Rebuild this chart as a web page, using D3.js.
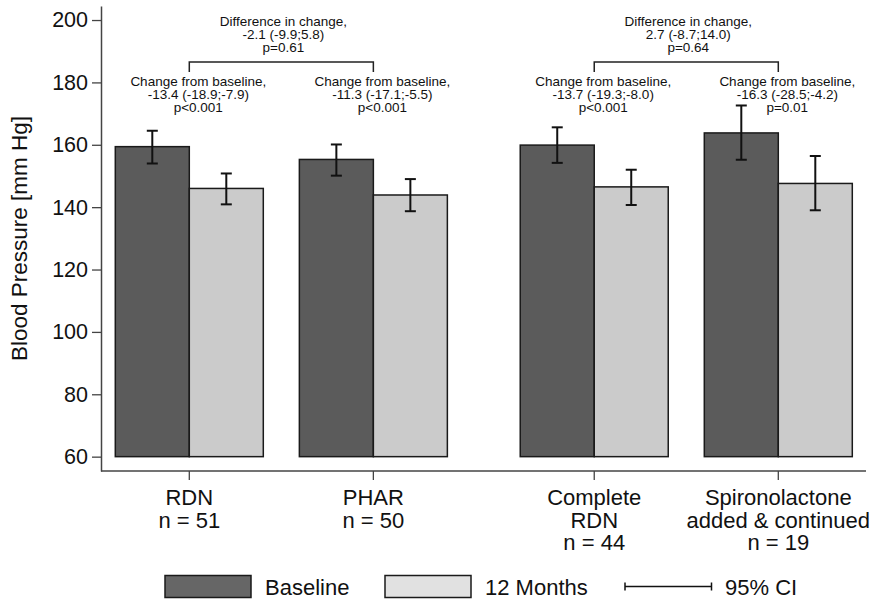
<!DOCTYPE html>
<html>
<head>
<meta charset="utf-8">
<script src="https://cdn.jsdelivr.net/npm/d3@7"></script>
<style>
  body { margin: 0; background: #fff; }
  svg { display: block; font-family: "Liberation Sans", Arial, sans-serif; }
</style>
</head>
<body>
<svg></svg>
<script>
// groups and values
var groups = ["RDN", "PHAR", "Complete RDN", "Spironolactone"];
var groupLabels = [
  ["RDN", "n = 51"],
  ["PHAR", "n = 50"],
  ["Complete", "RDN", "n = 44"],
  ["Spironolactone", "added & continued", "n = 19"]
];
var baseline = [159.4, 155.3, 159.9, 163.8];
var baselineLo = [154.0, 150.1, 154.2, 155.2];
var baselineHi = [164.5, 160.1, 165.6, 172.6];
var months12 = [146.0, 143.9, 146.5, 147.6];
var months12Lo = [140.9, 138.7, 140.7, 139.0];
var months12Hi = [150.8, 149.0, 152.0, 156.4];

var changeEst = ["-13.4 (-18.9;-7.9)", "-11.3 (-17.1;-5.5)", "-13.7 (-19.3;-8.0)", "-16.3 (-28.5;-4.2)"];
var changeP = ["p<0.001", "p<0.001", "p<0.001", "p=0.01"];
var diffPairs = [[0, 1], [2, 3]];
var diffEst = ["-2.1 (-9.9;5.8)", "2.7 (-8.7;14.0)"];
var diffP = ["p=0.61", "p=0.64"];

var yTicks = [60, 80, 100, 120, 140, 160, 180, 200];
var seriesNames = ["Baseline", "12 Months"];

var width = 873, height = 599;
var svg = d3.select("svg").attr("width", width).attr("height", height);

var barFill = ["#5b5b5b", "#cbcbcb"];
var legendFill = ["#666666", "#e1e1e1"];

// slot index with a wider gap between the two comparisons
function slot(i) { return i + (i >= 2 ? 0.2 : 0); }

var x = d3.scaleLinear().domain([0, 3.2]).range([189.3, 778.3]);
var y = d3.scaleLinear().domain([55.4, 204.5]).range([471, 6]);
var barW = 74;
var yBase = 60;

var rows = [];
groups.forEach(function(g, i) {
  rows.push({ i: i, s: 0, v: baseline[i], lo: baselineLo[i], hi: baselineHi[i] });
  rows.push({ i: i, s: 1, v: months12[i], lo: months12Lo[i], hi: months12Hi[i] });
});

// axes
var yAxis = svg.append("g")
    .attr("transform", "translate(101,0)")
    .call(d3.axisLeft(y).tickValues(yTicks).tickSize(9).tickPadding(4).tickSizeOuter(0));
yAxis.select(".domain").attr("stroke", "#444").attr("stroke-width", 1.5);
yAxis.selectAll(".tick line").attr("stroke", "#444").attr("stroke-width", 1.3);
yAxis.selectAll(".tick text").attr("font-size", "21.5px").attr("fill", "#111")
    .attr("font-family", "Liberation Sans, Arial, sans-serif");

svg.append("line")
    .attr("x1", 101).attr("x2", 866)
    .attr("y1", 471).attr("y2", 471)
    .attr("stroke", "#444").attr("stroke-width", 1.5);

svg.append("g").selectAll("line")
    .data(groups)
    .enter().append("line")
      .attr("x1", function(d, i) { return x(slot(i)); })
      .attr("x2", function(d, i) { return x(slot(i)); })
      .attr("y1", 471).attr("y2", 480)
      .attr("stroke", "#444").attr("stroke-width", 1.3);

var xl = svg.append("g").selectAll("text")
    .data(groupLabels)
    .enter().append("text")
      .attr("text-anchor", "middle")
      .attr("font-size", "22px")
      .attr("fill", "#111")
      .attr("x", function(d, i) { return x(slot(i)); })
      .attr("y", 505);
xl.selectAll("tspan")
    .data(function(d, i) { return d.map(function(t) { return { t: t, i: i }; }); })
    .enter().append("tspan")
      .attr("x", function(d) { return x(slot(d.i)); })
      .attr("dy", function(d, j) { return j === 0 ? 0 : 22.5; })
      .text(function(d) { return d.t; });

svg.append("text")
    .attr("transform", "translate(27," + ((6 + 471) / 2) + ") rotate(-90)")
    .attr("text-anchor", "middle")
    .attr("font-size", "22.5px")
    .attr("fill", "#111")
    .text("Blood Pressure [mm Hg]");

// bars
svg.append("g").selectAll("rect")
    .data(rows)
    .enter().append("rect")
      .attr("x", function(d) { return x(slot(d.i)) - barW + d.s * barW; })
      .attr("y", function(d) { return y(d.v); })
      .attr("width", barW)
      .attr("height", function(d) { return y(yBase) - y(d.v); })
      .attr("fill", function(d) { return barFill[d.s]; })
      .attr("stroke", "#1a1a1a")
      .attr("stroke-width", 1.5);

// error bars
var eb = svg.append("g").selectAll("g")
    .data(rows)
    .enter().append("g")
      .attr("stroke", "#111")
      .attr("stroke-width", 2);
function cx(d) { return x(slot(d.i)) - barW / 2 + d.s * barW; }
eb.append("line")
    .attr("x1", cx).attr("x2", cx)
    .attr("y1", function(d) { return y(d.lo); })
    .attr("y2", function(d) { return y(d.hi); });
eb.append("line")
    .attr("x1", function(d) { return cx(d) - 5.5; })
    .attr("x2", function(d) { return cx(d) + 5.5; })
    .attr("y1", function(d) { return y(d.hi); })
    .attr("y2", function(d) { return y(d.hi); });
eb.append("line")
    .attr("x1", function(d) { return cx(d) - 5.5; })
    .attr("x2", function(d) { return cx(d) + 5.5; })
    .attr("y1", function(d) { return y(d.lo); })
    .attr("y2", function(d) { return y(d.lo); });

// change-from-baseline annotations
var ann = svg.append("g").selectAll("text")
    .data(groups)
    .enter().append("text")
      .attr("text-anchor", "middle")
      .attr("font-size", "13.5px")
      .attr("fill", "#111")
      .attr("y", 86);
ann.each(function(d, i) {
  var t = d3.select(this), cxl = x(slot(i)) + 9;
  [ "Change from baseline,", changeEst[i], changeP[i] ].forEach(function(s, j) {
    t.append("tspan").attr("x", cxl).attr("dy", j === 0 ? 0 : 13).text(s);
  });
});

// difference brackets
diffPairs.forEach(function(p, k) {
  var x1 = x(slot(p[0])), x2 = x(slot(p[1]));
  svg.append("path")
      .attr("d", "M" + x1 + ",72V62H" + x2 + "V72")
      .attr("fill", "none")
      .attr("stroke", "#222")
      .attr("stroke-width", 1.5);
  var t = svg.append("text")
      .attr("text-anchor", "middle")
      .attr("font-size", "13.5px")
      .attr("fill", "#111")
      .attr("y", 26);
  [ "Difference in change,", diffEst[k], diffP[k] ].forEach(function(s, j) {
    t.append("tspan").attr("x", (x1 + x2) / 2 + 2).attr("dy", j === 0 ? 0 : 13).text(s);
  });
});

// legend
var legX = [165, 385];
seriesNames.forEach(function(name, s) {
  svg.append("rect")
      .attr("x", legX[s]).attr("y", 575.5)
      .attr("width", 86).attr("height", 22)
      .attr("fill", legendFill[s])
      .attr("stroke", "#1a1a1a").attr("stroke-width", 1.5);
  svg.append("text")
      .attr("x", legX[s] + 100).attr("y", 595)
      .attr("font-size", "22px").attr("fill", "#111")
      .text(name);
});
svg.append("path")
    .attr("d", "M625,582.5V590.5M625,586.5H711.5M711.5,582.5V590.5")
    .attr("fill", "none").attr("stroke", "#111").attr("stroke-width", 1.5);
svg.append("text")
    .attr("x", 725).attr("y", 595)
    .attr("font-size", "22px").attr("fill", "#111")
    .text("95% CI");
</script>
</body>
</html>
